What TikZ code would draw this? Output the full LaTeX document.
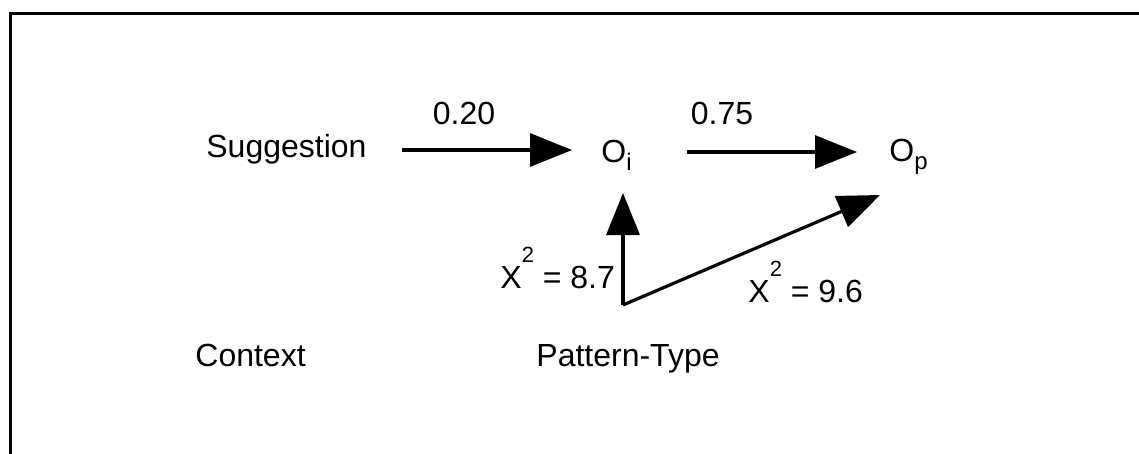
\documentclass[tikz,border=0pt]{standalone}
\usepackage{fontspec}
\setmainfont{Liberation Sans}
\usetikzlibrary{arrows.meta}
\newcommand\chisq[1]{X\raisebox{13pt}{\fontsize{11}{11}\selectfont 2} = #1}
\tikzset{
  lbl/.style={inner sep=0pt, anchor=base west, font=\fontsize{16}{19}\selectfont},
  arr/.style={line width=1.6pt, -{Triangle[length=21pt,width=16.5pt]}},
  frame/.style={line width=1.5pt}
}
\begin{document}
\begin{tikzpicture}[x=0.5pt,y=-0.5pt]
\useasboundingbox (0,0) rectangle (1139,454);
\draw[frame] (10,454) -- (10,14) -- (1139,14);
% nodes
\node[lbl] (sugg) at (206,158) {Suggestion};
\node[lbl] (oi) at (601,163) {O\raisebox{-4pt}{\fontsize{12}{12}\selectfont i}};
\node[lbl] (op) at (889,162) {O\raisebox{-4pt}{\fontsize{12}{12}\selectfont p}};
\node[lbl,anchor=base] (w1) at (464,125) {0.20};
\node[lbl,anchor=base] (w2) at (722,125) {0.75};
\node[lbl] (c1) at (500,288) {\chisq{8.7}};
\node[lbl] (c2) at (748,302) {\chisq{9.6}};
\node[lbl] (ctx) at (195,366) {Context};
\node[lbl] (pt) at (536,366) {Pattern-Type};
% connector ends
\coordinate (a1s) at (402,150);
\coordinate (a1e) at (572,150);
\coordinate (a2s) at (687,152);
\coordinate (a2e) at (857,152);
\coordinate (pb) at (623,305);
\coordinate (pv) at (623,193);
\coordinate (pd) at (880,195);
\draw[arr] (a1s) -- (a1e);
\draw[arr] (a2s) -- (a2e);
\draw[arr] (pb) -- (pv);
\draw[arr] (pb) -- (pd);
\end{tikzpicture}
\end{document}
